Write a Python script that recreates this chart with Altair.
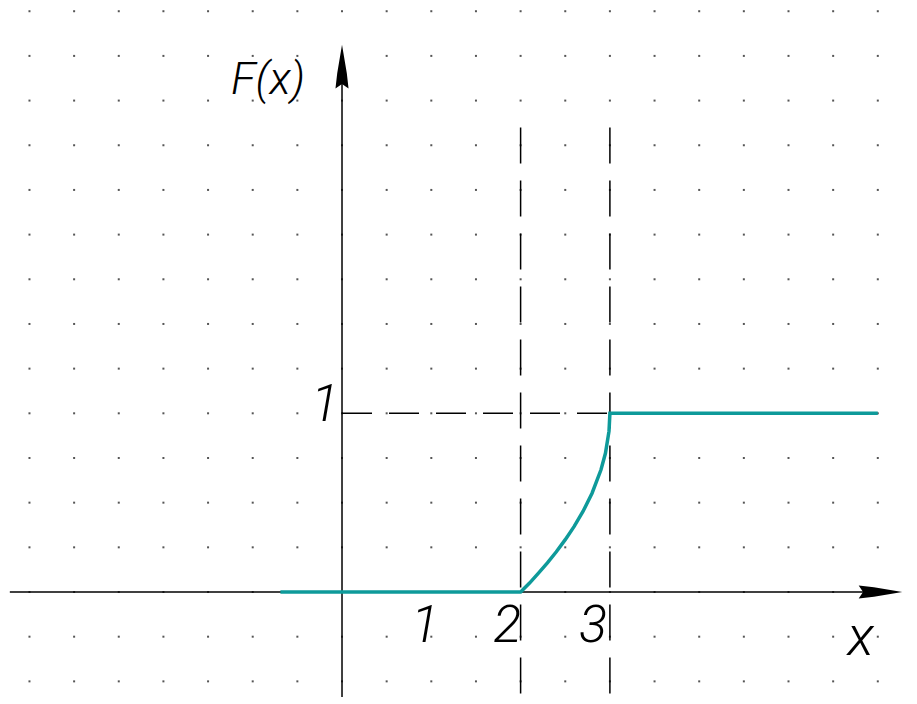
import altair as alt
import pandas as pd
import numpy as np

# Distribution function F(x): zero up to x=2, rising curve on [2, 3], one afterwards
curve_x = [-0.69, 2.0, 2.1, 2.2, 2.3, 2.4, 2.5, 2.6, 2.7, 2.8, 2.9, 2.95, 2.99, 3.0, 6.0]
curve_y = [0.0, 0.0, 0.05, 0.106, 0.163, 0.225, 0.293, 0.367, 0.452, 0.553, 0.684, 0.776, 0.9, 1.0, 1.0]

# Tick labels and axis names
label_text = ["F(x)", "1", "1", "2", "3", "x"]
label_x = [-0.83, -0.19, 0.93, 1.85, 2.81, 5.81]
label_y = [2.865, 1.046, -0.19, -0.19, -0.19, -0.255]
label_size = [45, 52, 52, 52, 52, 56]

# Dotted background grid
grid_x = np.arange(-3.5, 6.01, 0.5)
grid_y = np.arange(-0.5, 3.26, 0.25)

XDOM = [-3.83, 6.439]
YDOM = [-0.6267, 3.3128]
xs = alt.Scale(domain=XDOM, nice=False, zero=False)
ys = alt.Scale(domain=YDOM, nice=False, zero=False)

grid_df = pd.DataFrame([(gx, gy) for gx in grid_x for gy in grid_y], columns=["x", "y"])
grid = alt.Chart(grid_df).mark_square(size=4, color="#555555", opacity=1).encode(
    x=alt.X("x:Q", scale=xs, axis=None), y=alt.Y("y:Q", scale=ys, axis=None)
)

# Axis lines
axes_df = pd.DataFrame({"x": [-3.72, 0.0], "x2": [6.2, 0.0], "y": [0.0, -0.588], "y2": [0.0, 2.9]})
axes = alt.Chart(axes_df).mark_rule(color="black", strokeWidth=1.5).encode(
    x=alt.X("x:Q", scale=xs, axis=None), x2="x2:Q",
    y=alt.Y("y:Q", scale=ys, axis=None), y2="y2:Q",
)

# Arrowheads
arrow_shape = "M0,-1 L0.22,0.3 L0.3,1 L0,0.8 L-0.3,1 L-0.22,0.3 Z"
arrows_df = pd.DataFrame({"x": [0.0, 6.03], "y": [2.94, 0.0], "a": [0, 90]})
arrows = alt.Chart(arrows_df).mark_point(
    shape=arrow_shape, filled=True, color="black", size=1900, opacity=1
).encode(
    x=alt.X("x:Q", scale=xs, axis=None), y=alt.Y("y:Q", scale=ys, axis=None),
    angle=alt.Angle("a:Q", scale=None),
)

# Dashed guide lines
vdash_df = pd.DataFrame({"x": [2.0, 3.0], "y": [2.6, 2.6], "y2": [-0.6267, -0.6267]})
vdash = alt.Chart(vdash_df).mark_rule(color="black", strokeWidth=1.5, strokeDash=[36, 17]).encode(
    x=alt.X("x:Q", scale=xs, axis=None),
    y=alt.Y("y:Q", scale=ys, axis=None), y2="y2:Q",
)
hdash_df = pd.DataFrame({"x": [0.0], "x2": [3.0], "y": [1.0]})
hdash = alt.Chart(hdash_df).mark_rule(color="black", strokeWidth=1.5, strokeDash=[30, 17]).encode(
    x=alt.X("x:Q", scale=xs, axis=None), x2="x2:Q",
    y=alt.Y("y:Q", scale=ys, axis=None),
)

# F(x) curve
curve_df = pd.DataFrame({"x": curve_x, "y": curve_y, "o": range(len(curve_x))})
curve = alt.Chart(curve_df).mark_line(color="#0e9a9a", strokeWidth=3.5, interpolate="linear").encode(
    x=alt.X("x:Q", scale=xs, axis=None), y=alt.Y("y:Q", scale=ys, axis=None), order="o:Q"
)

labels_df = pd.DataFrame({"t": label_text, "x": label_x, "y": label_y, "s": label_size})
labels = alt.Chart(labels_df).mark_text(
    font="Roboto", fontStyle="italic", fontWeight=300, color="black",
    align="center", baseline="middle",
).encode(
    x=alt.X("x:Q", scale=xs, axis=None), y=alt.Y("y:Q", scale=ys, axis=None),
    text="t:N", size=alt.Size("s:Q", scale=None, legend=None),
)

chart = alt.layer(grid, vdash, hdash, axes, arrows, curve, labels).properties(
    width=917, height=704, padding=0, autosize=alt.AutoSizeParams(type="none"),
    background="white",
).configure_view(stroke=None)

chart.save("out.html", embed_options={"renderer": "svg", "actions": False})
